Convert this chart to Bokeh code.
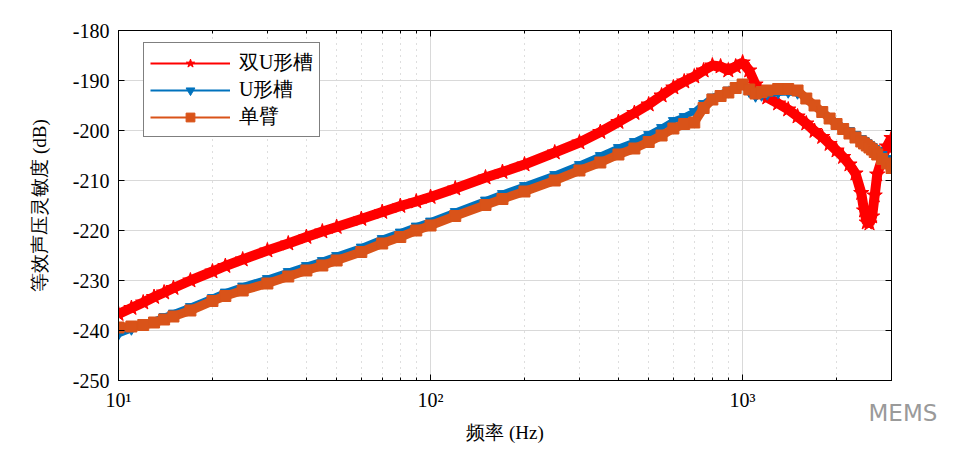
import numpy as np
from bokeh.plotting import figure
from bokeh.models import (LinearAxis, LogAxis, FixedTicker, Legend, LegendItem,
                          Label, Range1d)
from bokeh.embed import file_html
from bokeh.resources import INLINE

# ---------------- data ----------------
freq = [10, 11, 12, 13, 14, 15, 17, 20, 22, 25, 30, 35, 40, 45, 50, 60, 70, 80, 90, 100,
        120, 150, 170, 200, 250, 300, 350, 400, 450, 500, 550, 600, 650, 700, 750, 800,
        850, 900, 950, 1000, 1050, 1100, 1150, 1200, 1300, 1400, 1500, 1600, 1700, 1800,
        1900, 2000, 2100, 2200, 2300, 2400, 2450, 2500, 2550, 2600, 2650, 2700, 2800,
        2900, 3000]

double_u = [-236.7, -235.5, -234.4, -233.3, -232.4, -231.5, -230.0, -228.2, -227.1, -225.8,
            -224.0, -222.6, -221.3, -220.2, -219.3, -217.7, -216.3, -215.1, -214.2, -213.3,
            -211.6, -209.4, -208.3, -206.8, -204.4, -202.4, -200.3, -198.3, -196.5, -194.8,
            -193.0, -191.4, -190.2, -189.2, -188.0, -187.0, -187.2, -188.0, -187.2, -186.4,
            -188.0, -190.8, -192.5, -193.4, -194.6, -195.8, -197.2, -198.6, -200.1, -201.3,
            -202.7, -204.0, -205.3, -206.8, -208.6, -212.5, -216.0, -218.4, -218.6, -217.2,
            -213.0, -208.8, -205.6, -203.2, -201.5]

u_slot = [-240.8, -239.8, -238.9, -238.0, -237.2, -236.5, -235.2, -233.4, -232.3, -231.1,
          -229.6, -228.2, -227.0, -226.0, -225.0, -223.3, -221.6, -220.3, -219.1, -218.1,
          -216.2, -213.9, -212.6, -211.0, -208.8, -206.8, -205.0, -203.4, -202.2, -200.8,
          -199.4, -198.0, -197.2, -196.2, -194.6, -193.3, -192.6, -191.9, -191.2, -190.6,
          -192.3, -193.2, -193.0, -192.8, -192.5, -192.4, -192.6, -193.6, -194.8, -196.0,
          -197.2, -198.3, -199.2, -200.0, -200.8, -201.6, -202.0, -202.4, -202.8, -203.2,
          -203.6, -204.0, -204.8, -205.6, -206.5]

cantilever = [-239.4, -239.2, -238.9, -238.4, -237.8, -237.2, -236.0, -234.1, -233.1, -232.0,
              -230.6, -229.2, -228.0, -227.0, -226.0, -224.3, -222.6, -221.3, -220.0, -219.0,
              -217.1, -214.9, -213.7, -212.2, -210.0, -208.0, -206.4, -204.8, -203.6, -202.3,
              -201.0, -199.6, -198.7, -198.4, -195.5, -193.8, -193.1, -192.4, -191.5, -190.8,
              -191.8, -192.6, -192.3, -192.0, -191.7, -191.7, -192.0, -193.6, -195.0, -196.3,
              -197.6, -198.7, -199.7, -200.6, -201.4, -202.2, -202.6, -203.0, -203.4, -203.8,
              -204.3, -204.8, -205.7, -206.6, -207.5]

series_names = ["双U形槽", "U形槽", "单臂"]
x_major_ticks = [10, 100, 1000]
x_major_labels = ["10¹", "10²", "10³"]
x_minor_ticks = [20, 30, 40, 50, 60, 70, 80, 90, 200, 300, 400, 500, 600, 700, 800, 900,
                 2000, 3000]
y_ticks = [-250, -240, -230, -220, -210, -200, -190, -180]
y_tick_labels = ["-250", "-240", "-230", "-220", "-210", "-200", "-190", "-180"]
x_label = "频率 (Hz)"
y_label = "等效声压灵敏度 (dB)"
watermark = "MEMS"

# ---------------- figure ----------------
SERIF = "Liberation Serif"
p = figure(width=960, height=445, x_axis_type="log",
           x_range=Range1d(10, 3000), y_range=Range1d(-250, -180),
           output_backend="svg", toolbar_location=None,
           min_border_left=118, min_border_right=67,
           min_border_top=30, min_border_bottom=65)
p.background_fill_color = "white"
p.border_fill_color = "white"
p.outline_line_color = "black"
p.outline_line_width = 1

xticker = FixedTicker(ticks=x_major_ticks, minor_ticks=x_minor_ticks)
yticker = FixedTicker(ticks=y_ticks)

# bottom / left axes
xa = p.xaxis[0]
xa.ticker = xticker
xa.major_label_overrides = dict(zip(x_major_ticks, x_major_labels))
xa.axis_label = x_label
ya = p.yaxis[0]
ya.ticker = yticker
ya.major_label_overrides = dict(zip(y_ticks, y_tick_labels))
ya.axis_label = y_label

for ax in (xa, ya):
    ax.axis_line_color = "black"
    ax.major_tick_line_color = "black"
    ax.minor_tick_line_color = "black"
    ax.major_tick_in = 6
    ax.major_tick_out = 0
    ax.minor_tick_in = 3
    ax.minor_tick_out = 0
    ax.major_label_text_font = SERIF
    ax.major_label_text_font_size = "20px"
    ax.major_label_text_color = "black"
    ax.axis_label_text_font = SERIF
    ax.axis_label_text_font_size = "19px"
    ax.axis_label_text_font_style = "normal"
    ax.axis_label_text_color = "black"
ya.minor_tick_line_color = None
xa.major_label_standoff = 8
xa.axis_label_standoff = 8
ya.major_label_standoff = 9
ya.axis_label_standoff = 20

# box axes (top / right), ticks only
top = LogAxis(ticker=xticker,
              major_tick_in=6, major_tick_out=0, minor_tick_in=3, minor_tick_out=0,
              axis_line_color="black", major_tick_line_color="black",
              minor_tick_line_color="black", major_label_text_color=None,
              major_label_text_font_size="8px", major_label_standoff=0)
right = LinearAxis(ticker=yticker,
                   major_tick_in=6, major_tick_out=0, minor_tick_line_color=None,
                   axis_line_color="black", major_tick_line_color="black",
                   major_label_text_color=None, major_label_text_font_size="8px",
                   major_label_standoff=0)
p.add_layout(top, "above")
p.add_layout(right, "right")

# grids
p.xgrid.ticker = xticker
p.ygrid.ticker = yticker
p.xgrid.grid_line_color = "#d9d9d9"
p.ygrid.grid_line_color = "#d9d9d9"
p.xgrid.minor_grid_line_color = "#bdbdbd"
p.xgrid.minor_grid_line_dash = "1 5"

# ---------------- series ----------------
RED = "#ff0000"
BLUE = "#0072bd"
ORANGE = "#d95319"

p.line(freq, double_u, line_color=RED, line_width=10)
r_line = p.line(freq, double_u, line_color=RED, line_width=2)
r_sc = p.scatter(freq, double_u, marker="star", size=16, fill_color=RED, line_color=RED)

p.line(freq, u_slot, line_color=BLUE, line_width=6)
b_line = p.line(freq, u_slot, line_color=BLUE, line_width=2)
b_sc = p.scatter(freq, u_slot, marker="inverted_triangle", size=10, fill_color=BLUE,
                 line_color=BLUE)

p.line(freq, cantilever, line_color=ORANGE, line_width=9)
o_line = p.line(freq, cantilever, line_color=ORANGE, line_width=2)
o_sc = p.scatter(freq, cantilever, marker="square", size=11, fill_color=ORANGE,
                 line_color=ORANGE)

legend = Legend(items=[LegendItem(label=series_names[0], renderers=[r_line, r_sc]),
                       LegendItem(label=series_names[1], renderers=[b_line, b_sc]),
                       LegendItem(label=series_names[2], renderers=[o_line, o_sc])],
                location=(25, 243))
legend.border_line_color = "black"
legend.border_line_width = 1
legend.background_fill_color = "white"
legend.background_fill_alpha = 1
legend.label_text_font = SERIF
legend.label_text_font_size = "20px"
legend.label_text_color = "black"
legend.glyph_width = 80
legend.glyph_height = 22
legend.label_height = 22
legend.spacing = 0
legend.padding = 6
legend.margin = 0
legend.label_standoff = 9
p.add_layout(legend)

# watermark text, placed in a side panel so it is not clipped to the plot frame
p.add_layout(Label(x=868, y=412, x_units="canvas", y_units="canvas", text=watermark,
                   text_font="DejaVu Sans", text_font_size="23px",
                   text_color="#9a9a9a", text_baseline="middle"), "right")

open("out.html", "w").write(file_html(p, INLINE))
